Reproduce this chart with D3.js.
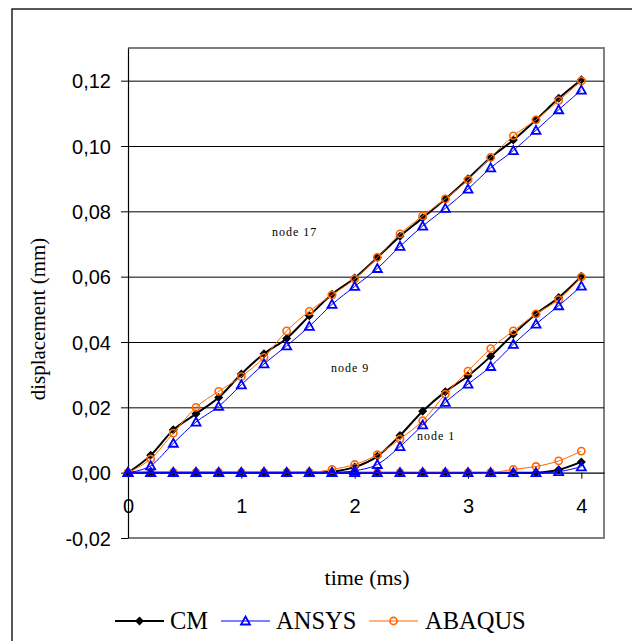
<!DOCTYPE html>
<html>
<head>
<meta charset="utf-8">
<script src="https://cdn.jsdelivr.net/npm/d3@7"></script>
<style>
  body { margin: 0; background: #fff; }
  svg { display: block; }
  .tick-label { font-family: "Liberation Sans", Arial, sans-serif; font-size: 20px; fill: #000; }
  .title { font-family: "Liberation Serif", "Times New Roman", serif; font-size: 21px; fill: #000; }
  .node-label { font-family: "Liberation Serif", "Times New Roman", serif; font-size: 12px; letter-spacing: 1px; fill: #000; }
  .legend-label { font-family: "Liberation Serif", "Times New Roman", serif; font-size: 24.5px; fill: #000; }
</style>
</head>
<body>
<svg id="chart"></svg>
<script>
'use strict';

// time steps (ms)
const times = [0, 0.2, 0.4, 0.6, 0.8, 1.0, 1.2, 1.4, 1.6, 1.8, 2.0,
    2.2, 2.4, 2.6, 2.8, 3.0, 3.2, 3.4, 3.6, 3.8, 4.0];

// node 17
const cm17 = [0, 0.0053, 0.0131, 0.0180, 0.0230, 0.0302, 0.0364, 0.0411, 0.0480, 0.0546, 0.0596,
    0.0659, 0.0724, 0.0780, 0.0838, 0.0900, 0.0965, 0.1018, 0.1080, 0.1146, 0.1203];
const ansys17 = [0, 0.0021, 0.0090, 0.0155, 0.0203, 0.0269, 0.0333, 0.0388, 0.0448, 0.0515, 0.0570,
    0.0625, 0.0693, 0.0755, 0.0809, 0.0868, 0.0933, 0.0986, 0.1048, 0.1111, 0.1171];
const abaqus17 = [0, 0.0042, 0.0121, 0.0200, 0.0249, 0.0294, 0.0353, 0.0434, 0.0494, 0.0544, 0.0593,
    0.0659, 0.0731, 0.0786, 0.0838, 0.0896, 0.0965, 0.1031, 0.1080, 0.1139, 0.1199];

// node 9
const cm9 = [0, 0, 0, 0, 0, 0, 0, 0, 0, 0.0003, 0.0017,
    0.0050, 0.0114, 0.0188, 0.0248, 0.0296, 0.0356, 0.0424, 0.0486, 0.0536, 0.0601];
const ansys9 = [0, 0, 0, 0, 0, 0, 0, 0, 0, 0, 0.0006,
    0.0025, 0.0080, 0.0146, 0.0215, 0.0271, 0.0325, 0.0393, 0.0455, 0.0511, 0.0571];
const abaqus9 = [0, 0, 0, 0, 0, 0, 0, 0, 0, 0.0010, 0.0025,
    0.0055, 0.0103, 0.0159, 0.0240, 0.0311, 0.0380, 0.0434, 0.0486, 0.0530, 0.0599];

// node 1
const cm1 = [0, 0, 0, 0, 0, 0, 0, 0, 0, 0, 0,
    0, 0, 0, 0, 0, 0, 0, 0, 0.0009, 0.0033];
const ansys1 = [0, 0, 0, 0, 0, 0, 0, 0, 0, 0, 0,
    0, 0, 0, 0, 0, 0, 0, 0, 0.0003, 0.0018];
const abaqus1 = [0, 0, 0, 0, 0, 0, 0, 0, 0, 0, 0,
    0, 0, 0, 0, 0, 0, 0.0010, 0.0019, 0.0036, 0.0066];

const yTicks = [-0.02, 0, 0.02, 0.04, 0.06, 0.08, 0.10, 0.12];
const xTicks = [0, 1, 2, 3, 4];
const seriesNames = ['CM', 'ANSYS', 'ABAQUS'];
const nodeNames = ['node 17', 'node 9', 'node 1'];

(function() {
    const d3 = window.d3;
    const width = 632;
    const height = 641;
    const svg = d3.select('#chart')
        .attr('width', width)
        .attr('height', height);

    const x = d3.scaleLinear().domain([0, 4.2]).range([128, 604]);
    const y = d3.scaleLinear().domain([-0.02, 0.13]).range([538, 48]);

    // outer frame
    svg.append('rect')
        .attr('x', 12).attr('y', 9)
        .attr('width', 640).attr('height', 660)
        .attr('fill', 'none')
        .attr('stroke', '#222')
        .attr('stroke-width', 1.5);

    // plot frame (grey)
    svg.append('path')
        .attr('d', 'M' + x(0) + ',' + y(0.13) + 'H' + x(4.2) + 'V' + y(-0.02) + 'H' + x(0))
        .attr('fill', 'none')
        .attr('stroke', '#808080')
        .attr('stroke-width', 2);

    // grid
    svg.append('g')
        .attr('transform', 'translate(' + x(0) + ',0)')
        .call(d3.axisLeft(y)
            .tickValues(yTicks.filter(v => v > 0))
            .tickFormat('')
            .tickSize(-(x(4.2) - x(0))))
        .call(g => g.select('.domain').remove())
        .call(g => g.selectAll('line').attr('stroke', '#000').attr('stroke-width', 1));

    // y axis
    const yAxis = svg.append('g')
        .attr('transform', 'translate(' + x(0) + ',0)')
        .call(d3.axisLeft(y)
            .tickValues(yTicks)
            .tickSize(7)
            .tickPadding(10)
            .tickSizeOuter(0)
            .tickFormat(d => d3.format('.2f')(d).replace('.', ',').replace('−', '-')));
    yAxis.attr('font-size', null).attr('font-family', null);
    yAxis.select('.domain').attr('stroke', '#000').attr('stroke-width', 1.2);
    yAxis.selectAll('line').attr('stroke', '#000');
    yAxis.selectAll('text')
        .attr('class', 'tick-label')
        .attr('dy', '0.36em');

    // x axis along zero
    const xAxis = svg.append('g')
        .attr('transform', 'translate(0,' + y(0) + ')')
        .call(d3.axisBottom(x)
            .tickValues(xTicks)
            .tickFormat(d3.format('d'))
            .tickSize(6)
            .tickPadding(20)
            .tickSizeOuter(0));
    xAxis.attr('font-size', null).attr('font-family', null);
    xAxis.select('.domain').attr('stroke', '#000').attr('stroke-width', 1.2);
    xAxis.selectAll('line').attr('stroke', '#000');
    xAxis.selectAll('text').attr('class', 'tick-label');

    // titles
    svg.append('text')
        .attr('class', 'title')
        .style('font-size', '22px')
        .attr('x', 367).attr('y', 585)
        .attr('text-anchor', 'middle')
        .text('time (ms)');

    svg.append('text')
        .attr('class', 'title')
        .attr('transform', 'translate(45,319) rotate(-90)')
        .attr('text-anchor', 'middle')
        .text('displacement (mm)');

    // node labels
    const nodePos = [[272, 236], [331, 372], [417, 440]];
    svg.selectAll('.node-label')
        .data(nodeNames)
        .enter()
        .append('text')
        .attr('class', 'node-label')
        .attr('x', (d, i) => nodePos[i][0])
        .attr('y', (d, i) => nodePos[i][1])
        .text(d => d);

    // series, drawn CM first so the hollow markers sit on top
    const series = [
        {name: 'CM', color: '#000', width: 2, marker: 'diamond', data: [cm17, cm9, cm1]},
        {name: 'ABAQUS', color: '#ff6600', width: 1, marker: 'circle', data: [abaqus17, abaqus9, abaqus1]},
        {name: 'ANSYS', color: '#0000ff', width: 1, marker: 'triangle', data: [ansys17, ansys9, ansys1]}
    ];

    const line = d3.line()
        .x(d => x(d[0]))
        .y(d => y(d[1]))
        .curve(d3.curveCatmullRom.alpha(0));

    function drawMarker(g, type, color) {
        if (type === 'diamond') {
            g.append('path')
                .attr('d', 'M0,-4.5L4.5,0L0,4.5L-4.5,0Z')
                .attr('fill', color);
        } else if (type === 'triangle') {
            g.append('path')
                .attr('d', 'M0,-4.5L4.5,3.5L-4.5,3.5Z')
                .attr('fill', 'none')
                .attr('stroke', color)
                .attr('stroke-width', 1.8);
        } else {
            g.append('circle')
                .attr('r', 3.6)
                .attr('fill', 'none')
                .attr('stroke', color)
                .attr('stroke-width', 1.6);
        }
    }

    series.forEach(s => {
        const g = svg.append('g').attr('class', 'series-' + s.name);
        s.data.forEach(vals => {
            const pts = times.map((t, i) => [t, vals[i]]);
            g.append('path')
                .attr('d', line(pts))
                .attr('fill', 'none')
                .attr('stroke', s.color)
                .attr('stroke-width', s.width);
        });
        s.data.forEach(vals => {
            times.forEach((t, i) => {
                const m = g.append('g')
                    .attr('transform', 'translate(' + x(t) + ',' + y(vals[i]) + ')');
                drawMarker(m, s.marker, s.color);
            });
        });
    });

    // legend
    const legendItems = [
        {name: 'CM', color: '#000', width: 2, marker: 'diamond', x0: 115, x1: 164, tx: 170},
        {name: 'ANSYS', color: '#0000ff', width: 1, marker: 'triangle', x0: 221, x1: 270, tx: 276},
        {name: 'ABAQUS', color: '#ff6600', width: 1, marker: 'circle', x0: 369, x1: 418, tx: 425}
    ];
    const ly = 621;
    const legend = svg.append('g').attr('class', 'legend');
    legendItems.forEach(item => {
        legend.append('line')
            .attr('x1', item.x0).attr('x2', item.x1)
            .attr('y1', ly).attr('y2', ly)
            .attr('stroke', item.color)
            .attr('stroke-width', item.width);
        const m = legend.append('g')
            .attr('transform', 'translate(' + ((item.x0 + item.x1) / 2) + ',' + ly + ')');
        drawMarker(m, item.marker, item.color);
        legend.append('text')
            .attr('class', 'legend-label')
            .attr('x', item.tx).attr('y', 629)
            .text(item.name);
    });
}());
</script>
</body>
</html>
